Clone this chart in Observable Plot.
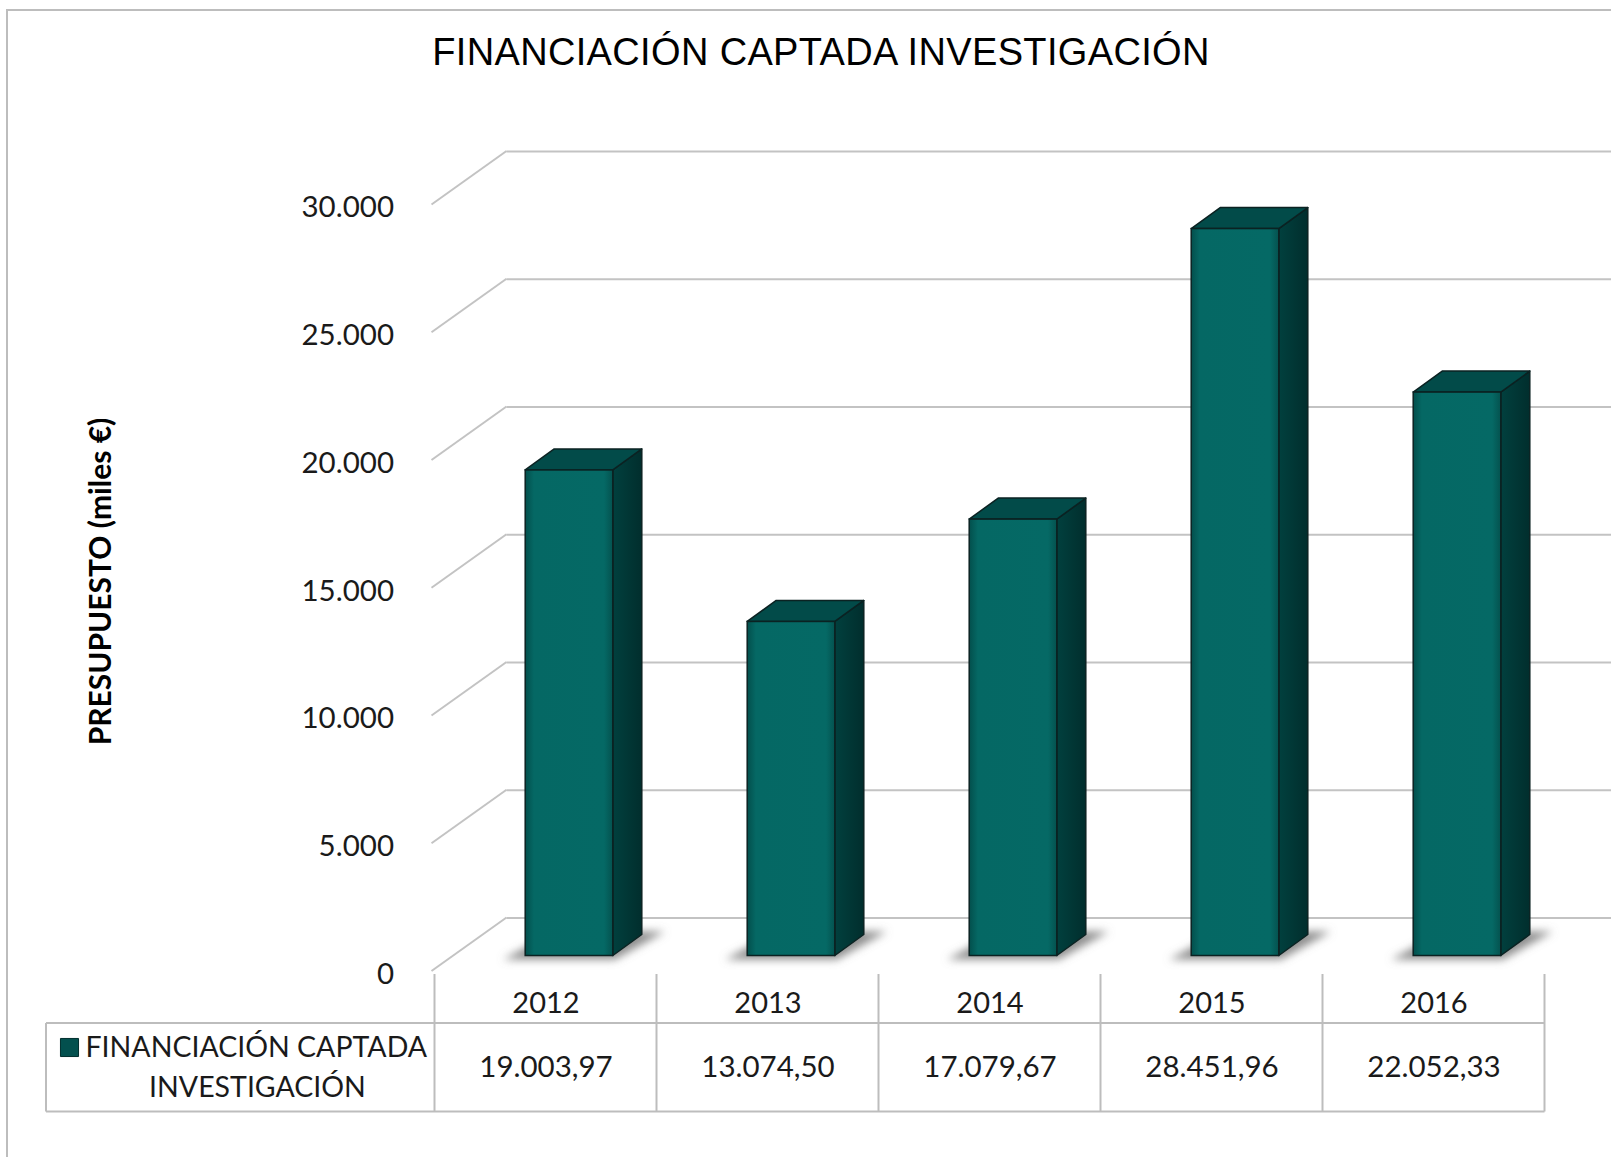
<!DOCTYPE html>
<html>
<head>
<meta charset="utf-8">
<script src="https://cdn.jsdelivr.net/npm/d3@7"></script>
<script src="https://cdn.jsdelivr.net/npm/@observablehq/plot@0.6"></script>
<style>
  html, body { margin: 0; padding: 0; background: #fff; width: 1611px; height: 1157px; overflow: hidden; }
  #border { position: absolute; left: 6px; top: 9px; width: 1800px; height: 1400px;
            border-left: 2px solid #bdbdbd; border-top: 2px solid #bdbdbd; pointer-events: none; }
  #title { position: absolute; left: 0; top: 33px; width: 1611px; box-sizing: border-box; padding-left: 31px;
           text-align: center; font-family: "Liberation Sans", Arial, sans-serif; font-size: 38px;
           letter-spacing: 0.35px; line-height: 38px; color: #000; }
  #chart { position: absolute; left: 0; top: 100px; }
</style>
</head>
<body>
<div id="border"></div>
<div id="title"></div>
<div id="chart"></div>
<script>
// ---------------- data ----------------
const chartTitle = "FINANCIACIÓN CAPTADA INVESTIGACIÓN";
const yAxisLabel = "PRESUPUESTO (miles €)";
const seriesName = ["FINANCIACIÓN CAPTADA", "INVESTIGACIÓN"];
const years = ["2012", "2013", "2014", "2015", "2016"];
const values = [19003.97, 13074.50, 17079.67, 28451.96, 22052.33];
const yTicks = [0, 5000, 10000, 15000, 20000, 25000, 30000];

const data = years.map((year, i) => ({year, value: values[i]}));

document.getElementById("title").textContent = chartTitle;

const locale = d3.formatLocale({decimal: ",", thousands: ".", grouping: [3], currency: ["", "€"]});
const fmtTick = locale.format(",.0f");
const fmtVal = locale.format(",.2f");

// ------------- 3D geometry offsets (pixels) -------------
const BACK = {dx: 49.5, dy: -38};     // back wall relative to bar plane
const FRONT = {dx: -25.5, dy: 15.5};  // front edge relative to bar plane
const DEPTH = {dx: 29, dy: -21};      // bar depth
const INSET = 67.2;                   // bar inset inside band
const TABLE_DX = -23.5;               // table columns relative to bar plane

// defs (gradients + blur filter)
function defsMark() {
  const g = d3.create("svg:g");
  const defs = g.append("defs");
  const fg = defs.append("linearGradient").attr("id", "gFront").attr("x1", 0).attr("x2", 1).attr("y1", 0).attr("y2", 0);
  fg.append("stop").attr("offset", "0%").attr("stop-color", "#034f4c");
  fg.append("stop").attr("offset", "10%").attr("stop-color", "#056864");
  fg.append("stop").attr("offset", "90%").attr("stop-color", "#056965");
  fg.append("stop").attr("offset", "100%").attr("stop-color", "#04524f");
  const sg = defs.append("linearGradient").attr("id", "gSide").attr("x1", 0).attr("x2", 1).attr("y1", 0).attr("y2", 0);
  sg.append("stop").attr("offset", "0%").attr("stop-color", "#01403e");
  sg.append("stop").attr("offset", "100%").attr("stop-color", "#012e2d");
  const f = defs.append("filter").attr("id", "blurShadow").attr("x", "-50%").attr("y", "-50%").attr("width", "200%").attr("height", "200%");
  f.append("feGaussianBlur").attr("stdDeviation", 4);
  return g.node();
}

// left side-wall diagonals
function wallMark(index, scales, vals, dim) {
  const y = scales.y;
  const g = d3.create("svg:g").attr("stroke", "#c3c3c3").attr("stroke-width", 2).attr("fill", "none");
  const x0 = dim.marginLeft;
  for (const t of yTicks) {
    const yy = y(t);
    g.append("line")
      .attr("x1", x0 + FRONT.dx).attr("y1", yy + FRONT.dy)
      .attr("x2", x0 + BACK.dx).attr("y2", yy + BACK.dy);
  }
  return g.node();
}

// soft floor shadows of the 3D bars
function shadowMark(index, scales) {
  const {x, y} = scales;
  const bw = x.bandwidth();
  const g = d3.create("svg:g").attr("filter", "url(#blurShadow)");
  data.forEach(d => {
    const xl = x(d.year) + INSET, xr = x(d.year) + bw - INSET, y0 = y(0);
    const pts = [[xl - 22, y0 + 4], [xr + 2, y0 + 4], [xr + 52, y0 - 24], [xl + 30, y0 - 24]];
    g.append("polygon").attr("points", pts.map(p => p.join(",")).join(" "))
      .attr("fill", "#7a7a7a").attr("opacity", 0.85);
  });
  return g.node();
}

// side + top faces of the 3D bars
function facesMark(index, scales) {
  const {x, y} = scales;
  const bw = x.bandwidth();
  const g = d3.create("svg:g").attr("stroke", "#0b2222").attr("stroke-width", 1.5).attr("stroke-linejoin", "round");
  data.forEach(d => {
    const xl = x(d.year) + INSET, xr = x(d.year) + bw - INSET, y0 = y(0), yt = y(d.value);
    const side = [[xr, yt], [xr + DEPTH.dx, yt + DEPTH.dy], [xr + DEPTH.dx, y0 + DEPTH.dy], [xr, y0]];
    const top = [[xl, yt], [xl + DEPTH.dx, yt + DEPTH.dy], [xr + DEPTH.dx, yt + DEPTH.dy], [xr, yt]];
    g.append("polygon").attr("points", side.map(p => p.join(",")).join(" ")).attr("fill", "url(#gSide)");
    g.append("polygon").attr("points", top.map(p => p.join(",")).join(" ")).attr("fill", "#024b49");
  });
  return g.node();
}

// data table grid lines
function tableMark(index, scales, vals, dim) {
  const x = scales.x;
  const bw = x.bandwidth();
  const base = dim.height - dim.marginBottom;
  const g = d3.create("svg:g").attr("stroke", "#bdbdbd").attr("stroke-width", 2).attr("fill", "none");
  const edges = years.map(yr => x(yr) + TABLE_DX);
  edges.push(x(years[years.length - 1]) + bw + TABLE_DX);
  const top = base + 18.5, mid = base + 67.5, bot = base + 156;
  const left = 46;
  edges.forEach(e => g.append("line").attr("x1", e).attr("x2", e).attr("y1", top).attr("y2", bot));
  g.append("line").attr("x1", left).attr("x2", left).attr("y1", mid).attr("y2", bot);
  g.append("line").attr("x1", left).attr("x2", edges[edges.length - 1]).attr("y1", mid).attr("y2", mid);
  g.append("line").attr("x1", left).attr("x2", edges[edges.length - 1]).attr("y1", bot).attr("y2", bot);
  return g.node();
}

// rotated y-axis title
function yLabelMark(index, scales, vals, dim) {
  const g = d3.create("svg:g");
  const cy = (dim.marginTop + dim.height - dim.marginBottom) / 2 + 9.25;
  g.append("text")
    .attr("transform", `translate(${dim.marginLeft - 358.5},${cy}) rotate(-90)`)
    .attr("text-anchor", "middle").attr("dominant-baseline", "central")
    .attr("font-family", "Lato, sans-serif").attr("font-weight", "bold").attr("font-size", 30)
    .attr("fill", "#000")
    .text(yAxisLabel);
  return g.node();
}

const plot = Plot.plot({
  width: 1611,
  height: 1057,
  marginLeft: 457,
  marginRight: 42,
  marginTop: 89,
  marginBottom: 201.5,
  style: {fontFamily: "Lato, sans-serif", fontSize: "29px", color: "#1a1a1a", background: "transparent", overflow: "visible"},
  x: {domain: years, padding: 0, axis: null},
  y: {domain: [0, 30000], axis: null},
  marks: [
    defsMark,
    Plot.ruleY(yTicks, {stroke: "#c3c3c3", strokeWidth: 2, dx: BACK.dx, dy: BACK.dy, strokeOpacity: 1}),
    wallMark,
    shadowMark,
    facesMark,
    Plot.barY(data, {x: "year", y: "value", fill: "url(#gFront)", stroke: "#0b2222", strokeWidth: 1.5,
                     insetLeft: INSET, insetRight: INSET}),
    // y tick labels
    Plot.text(yTicks, {y: d => d, text: d => fmtTick(d), frameAnchor: "left", textAnchor: "end",
                       dx: -63.5, dy: 18.5, fill: "#1a1a1a", fontSize: 29.5}),
    // data table
    tableMark,
    Plot.text(years, {x: d => d, text: d => d, frameAnchor: "bottom", dx: TABLE_DX, dy: 47.5,
                      lineAnchor: "middle", fill: "#1a1a1a"}),
    Plot.text(data, {x: "year", text: d => fmtVal(d.value), frameAnchor: "bottom", dx: TABLE_DX, dy: 112,
                     lineAnchor: "middle", fill: "#1a1a1a", fontSize: 29.5}),
    Plot.dot([seriesName[0]], {frameAnchor: "bottom-left", symbol: "square", r: 10.2, fill: "#03504e",
                               stroke: "#012e2d", strokeWidth: 1, dx: -388, dy: 91.5}),
    Plot.text([seriesName[0]], {text: d => d, frameAnchor: "bottom-left", textAnchor: "start", lineAnchor: "middle",
                                dx: -372, dy: 91.5, fill: "#1a1a1a", fontSize: 28.5}),
    Plot.text([seriesName[1]], {text: d => d, frameAnchor: "bottom-left", textAnchor: "middle", lineAnchor: "middle",
                                dx: -200, dy: 131.5, fill: "#1a1a1a", fontSize: 28.5}),
    yLabelMark
  ]
});
document.getElementById("chart").appendChild(plot);
</script>
</body>
</html>
